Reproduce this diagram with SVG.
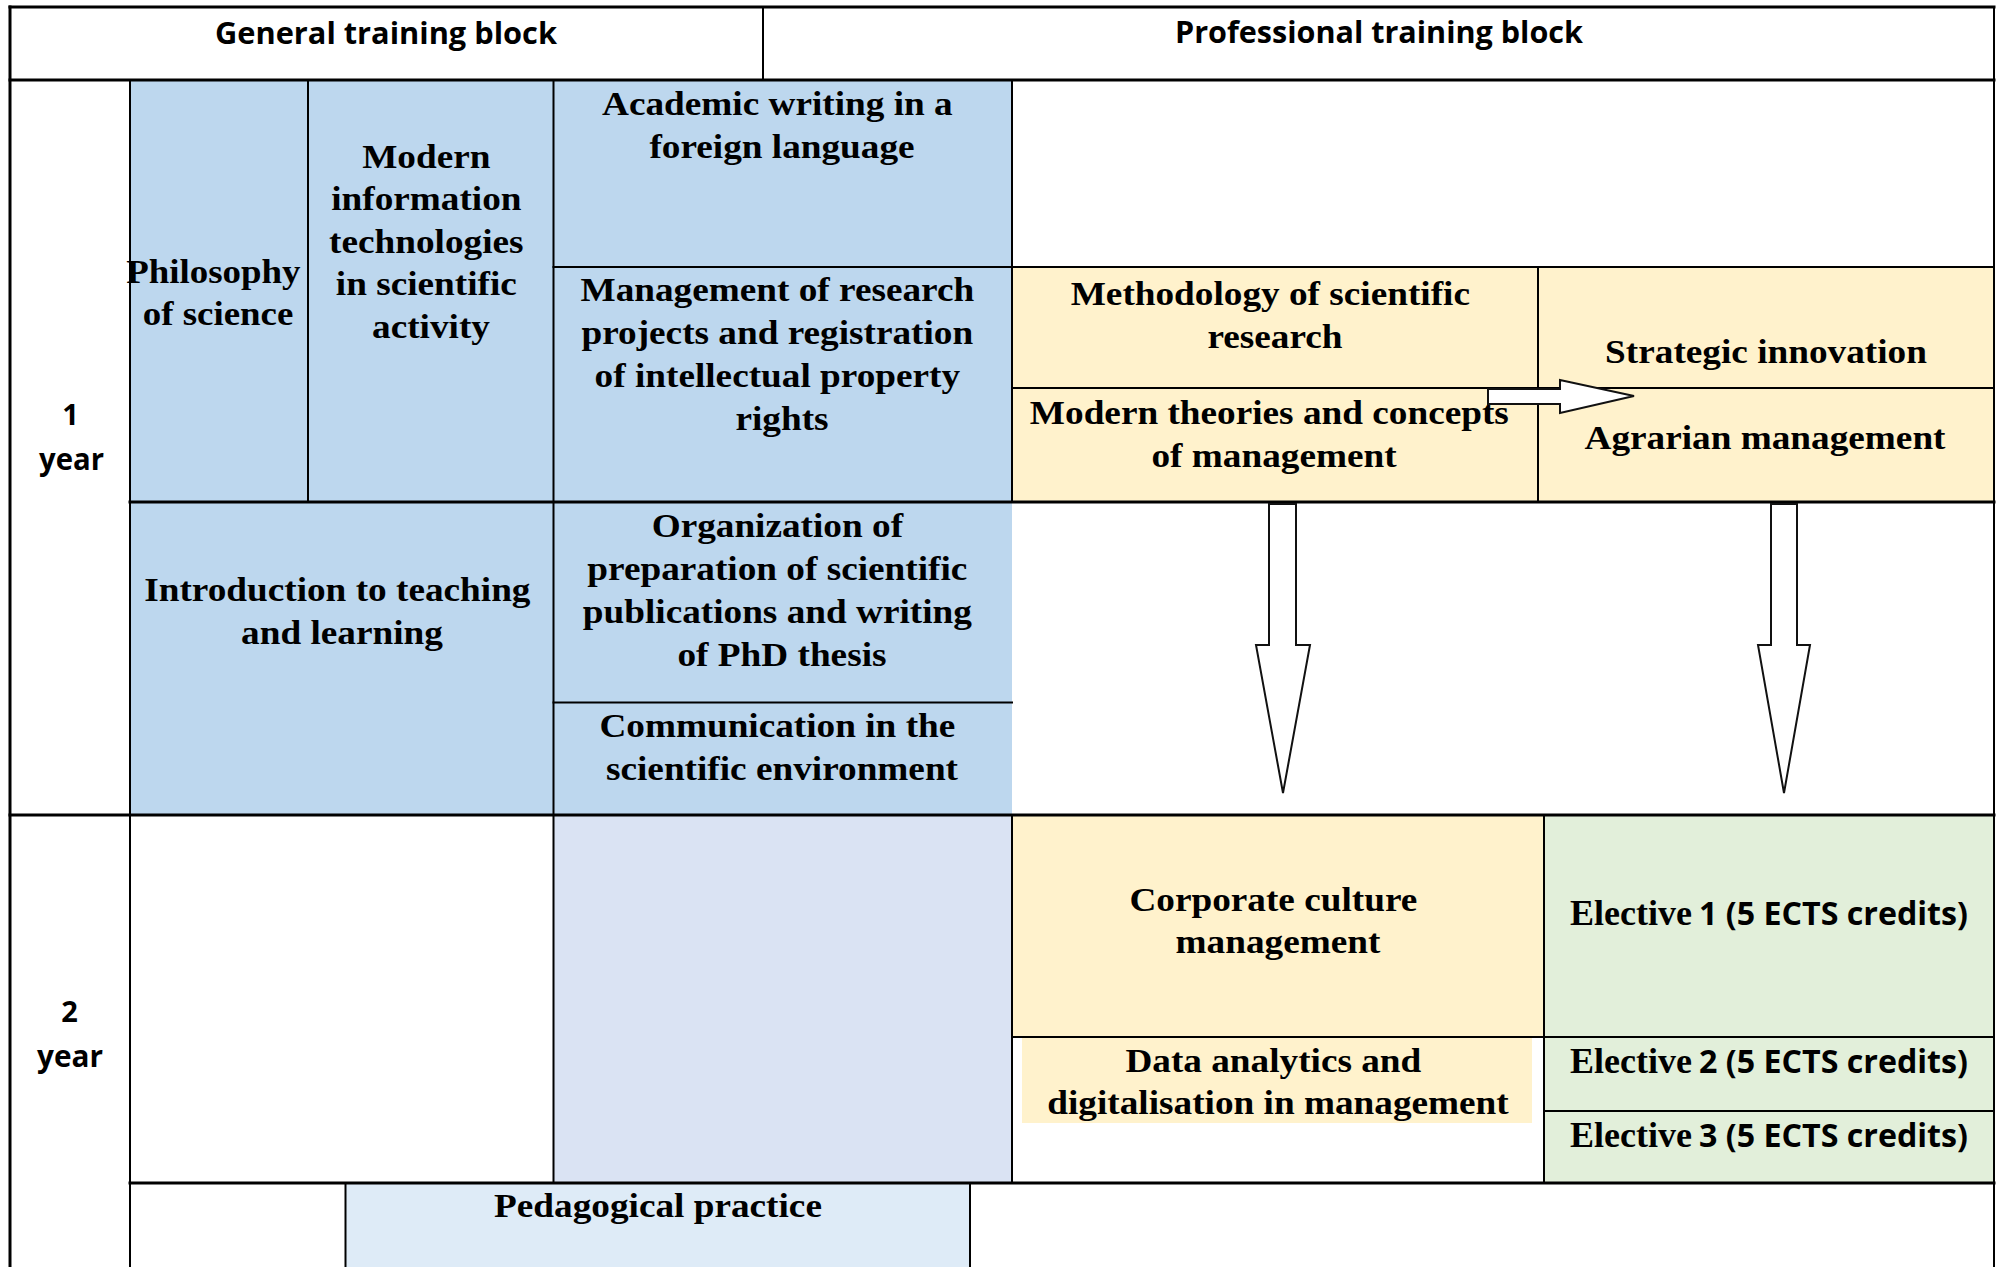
<svg xmlns="http://www.w3.org/2000/svg" width="1997" height="1267" viewBox="0 0 1997 1267">
  <style>
    .blue { fill: #BDD7EE; }
    .blue2 { fill: #DAE3F3; }
    .blue3 { fill: #DEEBF7; }
    .yellow { fill: #FFF2CC; }
    .green { fill: #E2EFDA; }
    .white { fill: #FFFFFF; }
    .serif { font-family: "Liberation Serif", "Times New Roman", serif; font-weight: bold; font-size: 34.5px; fill: #000; text-anchor: middle; }
    .serif-l { font-family: "Liberation Serif", "Times New Roman", serif; font-weight: bold; font-size: 35px; fill: #000; }
    .sans { font-family: "Open Sans", "Noto Sans", "Liberation Sans", sans-serif; font-weight: 700; fill: #000; }
    .grid line { stroke: #000; stroke-width: 2; stroke-linecap: square; }
    .grid line.thick { stroke-width: 3; }
    .arrow { fill: #FFFFFF; stroke: #111; stroke-width: 2; stroke-linejoin: miter; }
  </style>

  <rect x="0" y="0" width="1997" height="1267" fill="#FFFFFF"/>

  <!-- header row -->
  <g id="header-general">
    <rect class="white" x="10" y="7" width="753" height="73"/>
    <text class="sans" x="215" y="44" font-size="30" textLength="342" lengthAdjust="spacingAndGlyphs">General training block</text>
  </g>
  <g id="header-professional">
    <rect class="white" x="763" y="7" width="1231" height="73"/>
    <text class="sans" x="1175" y="43" font-size="30" textLength="408" lengthAdjust="spacingAndGlyphs">Professional training block</text>
  </g>

  <!-- year labels -->
  <g id="year-1">
    <text class="sans" x="70.5" y="425" font-size="29" text-anchor="middle">1</text>
    <text class="sans" x="39" y="470" font-size="30" textLength="65" lengthAdjust="spacingAndGlyphs">year</text>
  </g>
  <g id="year-2">
    <text class="sans" x="69.5" y="1022" font-size="29" text-anchor="middle">2</text>
    <text class="sans" x="37" y="1067" font-size="30" textLength="66" lengthAdjust="spacingAndGlyphs">year</text>
  </g>

  <!-- first year: general training courses -->
  <g id="philosophy-of-science">
    <rect class="blue" x="130" y="80" width="178" height="422"/>
    <text class="serif" transform="translate(218 0) scale(1.07 1)">
      <tspan x="0" y="283">Philosophy</tspan>
      <tspan x="0" y="325">of science</tspan>
    </text>
  </g>
  <g id="modern-it">
    <rect class="blue" x="308" y="80" width="245.5" height="422"/>
    <text class="serif" transform="translate(431 0) scale(1.08 1)">
      <tspan x="0" y="168">Modern</tspan>
      <tspan x="0" y="210.5">information</tspan>
      <tspan x="0" y="253">technologies</tspan>
      <tspan x="0" y="295.5">in scientific</tspan>
      <tspan x="0" y="338">activity</tspan>
    </text>
  </g>
  <g id="academic-writing">
    <rect class="blue" x="553.5" y="80" width="458.5" height="187"/>
    <text class="serif" transform="translate(782 0) scale(1.08 1)">
      <tspan x="0" y="115">Academic writing in a</tspan>
      <tspan x="0" y="158">foreign language</tspan>
    </text>
  </g>
  <g id="research-management">
    <rect class="blue" x="553.5" y="267" width="458.5" height="235"/>
    <text class="serif" transform="translate(782 0) scale(1.08 1)">
      <tspan x="0" y="301.5">Management of research</tspan>
      <tspan x="0" y="344.3">projects and registration</tspan>
      <tspan x="0" y="387">of intellectual property</tspan>
      <tspan x="0" y="430">rights</tspan>
    </text>
  </g>
  <g id="teaching-learning">
    <rect class="blue" x="130" y="502" width="423.5" height="313"/>
    <text class="serif" transform="translate(342 0) scale(1.08 1)">
      <tspan x="0" y="601.5">Introduction to teaching</tspan>
      <tspan x="0" y="644">and learning</tspan>
    </text>
  </g>
  <g id="publications">
    <rect class="blue" x="553.5" y="502" width="458.5" height="200.5"/>
    <text class="serif" transform="translate(782 0) scale(1.08 1)">
      <tspan x="0" y="537">Organization of</tspan>
      <tspan x="0" y="580">preparation of scientific</tspan>
      <tspan x="0" y="623">publications and writing</tspan>
      <tspan x="0" y="666">of PhD thesis</tspan>
    </text>
  </g>
  <g id="communication">
    <rect class="blue" x="553.5" y="702.5" width="458.5" height="112.5"/>
    <text class="serif" transform="translate(782 0) scale(1.08 1)">
      <tspan x="0" y="737">Communication in the</tspan>
      <tspan x="0" y="780">scientific environment</tspan>
    </text>
  </g>

  <!-- first year: professional training courses -->
  <g id="methodology">
    <rect class="yellow" x="1012" y="267" width="526" height="121"/>
    <text class="serif" transform="translate(1275 0) scale(1.08 1)">
      <tspan x="0" y="305">Methodology of scientific</tspan>
      <tspan x="0" y="348">research</tspan>
    </text>
  </g>
  <g id="strategic-innovation">
    <rect class="yellow" x="1538" y="267" width="456" height="121"/>
    <text class="serif" transform="translate(1766 0) scale(1.08 1)">
      <tspan x="0" y="363">Strategic innovation</tspan>
    </text>
  </g>
  <g id="management-theories">
    <rect class="yellow" x="1012" y="388" width="526" height="114"/>
    <text class="serif" transform="translate(1274 0) scale(1.08 1)">
      <tspan x="0" y="424">Modern theories and concepts</tspan>
      <tspan x="0" y="467">of management</tspan>
    </text>
  </g>
  <g id="agrarian-management">
    <rect class="yellow" x="1538" y="388" width="456" height="114"/>
    <text class="serif" transform="translate(1765 0) scale(1.08 1)">
      <tspan x="0" y="449">Agrarian management</tspan>
    </text>
  </g>

  <!-- second year -->
  <g id="year2-general">
    <rect class="blue2" x="553.5" y="815" width="458.5" height="368"/>
  </g>
  <g id="corporate-culture">
    <rect class="yellow" x="1012" y="815" width="532" height="222"/>
    <text class="serif" transform="translate(1278 0) scale(1.08 1)">
      <tspan x="0" y="911">Corporate culture</tspan>
      <tspan x="0" y="953">management</tspan>
    </text>
  </g>
  <g id="data-analytics">
    <rect class="yellow" x="1022" y="1038" width="510" height="85"/>
    <text class="serif" transform="translate(1278 0) scale(1.08 1)">
      <tspan x="0" y="1072">Data analytics and</tspan>
      <tspan x="0" y="1114">digitalisation in management</tspan>
    </text>
  </g>
  <g id="elective-1">
    <rect class="green" x="1544" y="815" width="450" height="222"/>
    <text class="serif-l" x="1570" y="925" textLength="122" lengthAdjust="spacingAndGlyphs">Elective</text>
    <text class="sans" x="1699" y="925" font-size="32" textLength="269" lengthAdjust="spacingAndGlyphs">1 (5 ECTS credits)</text>
  </g>
  <g id="elective-2">
    <rect class="green" x="1544" y="1037" width="450" height="74"/>
    <text class="serif-l" x="1570" y="1073" textLength="122" lengthAdjust="spacingAndGlyphs">Elective</text>
    <text class="sans" x="1699" y="1073" font-size="32" textLength="269" lengthAdjust="spacingAndGlyphs">2 (5 ECTS credits)</text>
  </g>
  <g id="elective-3">
    <rect class="green" x="1544" y="1111" width="450" height="72"/>
    <text class="serif-l" x="1570" y="1147" textLength="122" lengthAdjust="spacingAndGlyphs">Elective</text>
    <text class="sans" x="1699" y="1147" font-size="32" textLength="269" lengthAdjust="spacingAndGlyphs">3 (5 ECTS credits)</text>
  </g>
  <g id="pedagogical-practice">
    <rect class="blue3" x="345.5" y="1183" width="624.5" height="84"/>
    <text class="serif" transform="translate(658 0) scale(1.08 1)">
      <tspan x="0" y="1217">Pedagogical practice</tspan>
    </text>
  </g>

  <!-- table rules -->
  <g class="grid">
    <line class="thick" x1="10" y1="7" x2="1994" y2="7"/>
    <line class="thick" x1="10" y1="80" x2="1994" y2="80"/>
    <line x1="553.5" y1="267" x2="1994" y2="267"/>
    <line x1="1012" y1="388" x2="1994" y2="388"/>
    <line class="thick" x1="130" y1="502" x2="1994" y2="502"/>
    <line x1="553.5" y1="702.5" x2="1012" y2="702.5"/>
    <line class="thick" x1="10" y1="815" x2="1994" y2="815"/>
    <line x1="1012" y1="1037" x2="1994" y2="1037"/>
    <line x1="1544" y1="1111" x2="1994" y2="1111"/>
    <line class="thick" x1="130" y1="1183" x2="1994" y2="1183"/>

    <line class="thick" x1="10" y1="7" x2="10" y2="1267"/>
    <line x1="1994" y1="7" x2="1994" y2="1267"/>
    <line x1="763" y1="7" x2="763" y2="80"/>
    <line x1="130" y1="80" x2="130" y2="1267"/>
    <line x1="308" y1="80" x2="308" y2="502"/>
    <line x1="553.5" y1="80" x2="553.5" y2="1183"/>
    <line x1="1012" y1="80" x2="1012" y2="502"/>
    <line x1="1012" y1="815" x2="1012" y2="1183"/>
    <line x1="1538" y1="267" x2="1538" y2="502"/>
    <line x1="1544" y1="815" x2="1544" y2="1183"/>
    <line x1="345.5" y1="1183" x2="345.5" y2="1267"/>
    <line x1="970" y1="1183" x2="970" y2="1267"/>
  </g>

  <!-- block arrows -->
  <g id="connectors">
    <polygon class="arrow" points="1488,389 1560,389 1560,380 1634,396 1560,413 1560,404 1488,404"/>
    <polygon class="arrow" points="1269,504 1296,504 1296,645 1310,645 1283,793 1256,645 1269,645"/>
    <polygon class="arrow" points="1771,504 1797,504 1797,645 1810,645 1784,793 1758,645 1771,645"/>
  </g>
</svg>
